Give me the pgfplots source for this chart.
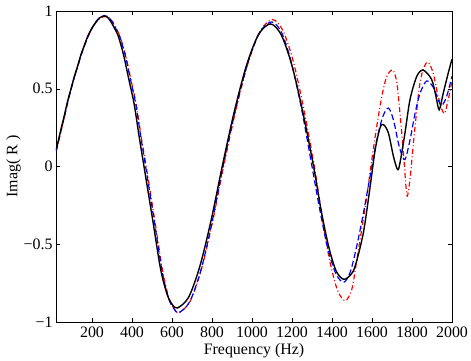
\documentclass[border=0pt]{standalone}
\usepackage{fontspec}
\setmainfont{Liberation Serif}
\usepackage{pgfplots}
\pgfplotsset{compat=1.18}

\begin{document}
\begin{tikzpicture}[x=1bp,y=1bp]
\begin{axis}[
  at={(0,0)}, anchor=south west,
  scale only axis, width=396bp, height=311bp,
  xmin=20, xmax=2000, ymin=-1, ymax=1,
  xtick={200,400,...,2000},
  ytick={-1,-0.5,0,0.5,1},
  yticklabels={−1,−0.5,0,0.5,1},
  /pgf/number format/assume math mode=true,
  /pgf/number format/1000 sep={},
  tick align=inside, major tick length=4.5bp,
  tick style={black, line width=0.5pt},
  axis line style={black, line width=0.6pt},
  tick label style={font=\fontsize{16}{18}\selectfont},
  xticklabel style={yshift=-1bp},
  every axis label/.append style={font=\fontsize{16}{18}\selectfont},
  xlabel={Frequency (Hz)}, ylabel={Imag( R )},
  xlabel style={yshift=1bp},
  ylabel style={yshift=-4bp},
  clip=true,
]
% red dash-dot
\addplot[red, line width=1.2pt, smooth, dash pattern=on 5bp off 2.5bp on 1bp off 2.5bp] coordinates {
(20,0.10)(25,0.12)(45,0.23)(62,0.32)(78,0.41)(95,0.495)(112,0.575)(129,0.645)(145,0.715)(162,0.775)
(178,0.83)(195,0.875)(212,0.912)(228,0.94)(246,0.958)(265,0.965)(285,0.957)(304,0.928)(322,0.884)
(338,0.845)(355,0.775)(371,0.70)(396,0.55)(421,0.40)(446,0.19)(471,0)(513,-0.34)(553,-0.67)(584,-0.845)
(609,-0.91)(634,-0.94)
(690,-0.868)(746,-0.665)(802,-0.360)(858,0)(919,0.362)(981,0.668)(1042,0.873)(1103,0.945)
(1155,0.873)(1208,0.668)(1260,0.362)(1312,0)(1351,-0.330)(1389,-0.610)(1428,-0.797)(1466,-0.863)
(1499,-0.79)(1524,-0.60)(1549,-0.40)(1574,-0.19)(1599,0.045)(1624,0.26)(1649,0.45)(1674,0.58)(1704,0.62)
(1724,0.54)(1740,0.34)(1757,0.09)(1770,-0.13)(1777,-0.19)(1790,-0.083)(1807,0.15)(1824,0.365)(1840,0.54)
(1860,0.64)(1881,0.67)(1906,0.60)(1931,0.45)(1960,0.34)(1981,0.43)(2000,0.55)
};
% blue dashed
\addplot[blue, line width=1.2pt, smooth, dash pattern=on 6bp off 3bp] coordinates {
(20,0.10)(25,0.12)(45,0.23)(62,0.32)(78,0.41)(95,0.495)(112,0.575)(129,0.645)(145,0.715)(162,0.775)
(178,0.83)(195,0.875)(212,0.915)(228,0.945)(245,0.963)(263,0.97)(283,0.96)(302,0.93)(320,0.885)
(336,0.845)(353,0.775)(369,0.70)(394,0.55)(419,0.40)(444,0.19)(468,0)(510,-0.34)(550,-0.67)(582,-0.845)
(607,-0.91)(634,-0.94)
(689,-0.868)(745,-0.665)(800,-0.360)(855,0)(916,0.356)(977,0.658)(1037,0.859)(1098,0.93)
(1149,0.859)(1199,0.658)(1250,0.356)(1300,0)(1340,-0.285)(1379,-0.527)(1419,-0.688)(1458,-0.745)
(1491,-0.68)(1524,-0.51)(1557,-0.30)(1591,-0.06)(1624,0.17)(1654,0.32)(1682,0.376)(1707,0.30)(1732,0.15)
(1745,0.09)(1765,0.045)(1790,0.17)(1815,0.34)(1840,0.47)(1873,0.55)(1906,0.51)(1931,0.43)(1948,0.39)
(1973,0.45)(2000,0.58)
};
% black solid
\addplot[black, line width=1.4pt, smooth] coordinates {
(20,0.11)(25,0.13)(45,0.24)(62,0.33)(78,0.42)(95,0.50)(112,0.58)(129,0.65)(145,0.72)(162,0.78)
(178,0.835)(195,0.88)(212,0.915)(228,0.942)(243,0.96)(258,0.968)(277,0.96)(295,0.93)(312,0.89)
(328,0.85)(345,0.78)(361,0.70)(386,0.55)(411,0.40)(436,0.19)(460,0)(503,-0.34)(543,-0.66)(575,-0.82)
(600,-0.885)(627,-0.91)
(683,-0.841)(739,-0.643)(795,-0.349)(851,0)(911,0.351)(972,0.648)(1032,0.847)(1092,0.917)
(1146,0.847)(1200,0.648)(1254,0.351)(1308,0)(1345,-0.277)(1383,-0.513)(1420,-0.670)(1457,-0.725)
(1491,-0.70)(1516,-0.64)(1557,-0.425)(1591,-0.126)(1616,0.109)(1640,0.248)(1657,0.27)(1682,0.216)
(1707,0.066)(1728,-0.02)(1740,0.024)(1765,0.216)(1790,0.43)(1824,0.58)(1856,0.62)(1898,0.56)
(1920,0.45)(1936,0.365)(1956,0.47)(1981,0.60)(2000,0.69)
};
\end{axis}
\pgfresetboundingbox
\path[use as bounding box] (-56bp,-39bp) rectangle (415bp,322bp);
\end{tikzpicture}
\end{document}
